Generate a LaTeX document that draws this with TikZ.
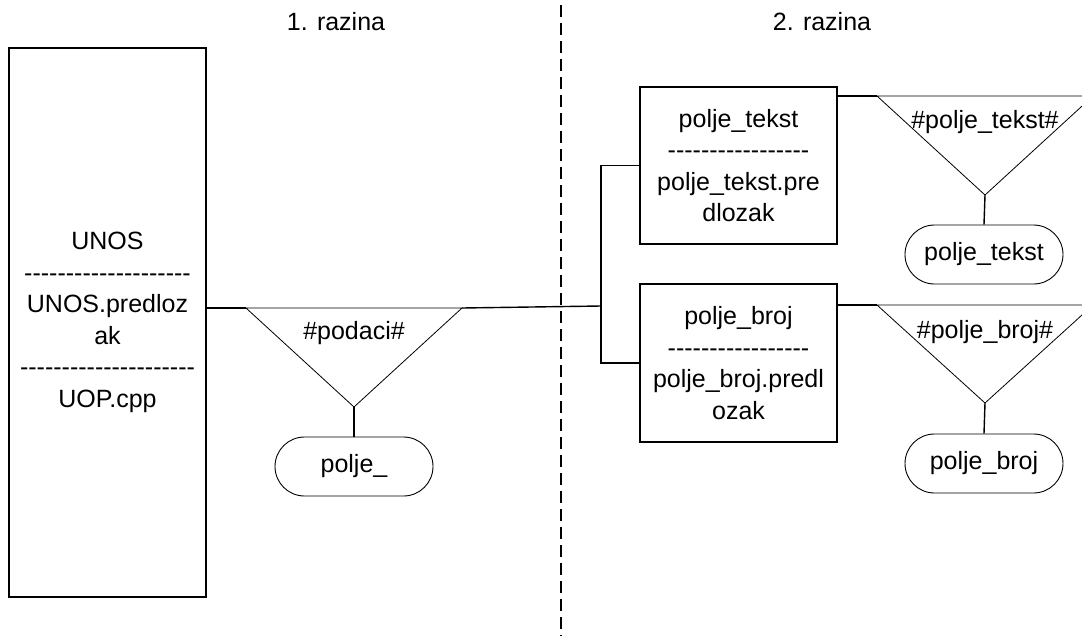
\documentclass[tikz,border=0pt]{standalone}
\usepackage{fontspec}
\setmainfont{Liberation Sans}
\usetikzlibrary{shapes.misc}
\newcommand\crtice[1]{\foreach\k in {1,...,#1}{-\kern0pt}}
\begin{document}
\begin{tikzpicture}[x=1pt,y=-1pt,
  every node/.style={font=\fontsize{25}{31.5}\selectfont},
  blok/.style={draw,line width=1.4pt,rectangle,inner sep=0pt,minimum width=197pt,align=center},
  pill/.style={draw,line width=0.9pt,rounded rectangle,inner sep=0pt,minimum width=158pt,minimum height=59pt},
  tri/.style={draw,line width=0.8pt},
  veza/.style={draw,line width=1.4pt},
  lbl/.style={inner sep=0pt}]
\useasboundingbox (0,0) rectangle (1082,635);
\clip (0,0) rectangle (1082,635);
% headings
\node[lbl] (h1) at (336,22) {1. razina};
\node[lbl] (h2) at (822,22) {2. razina};
% divider
\coordinate (dtop) at (561,5);
\coordinate (dbot) at (561,640);
\draw[line width=1.5pt,dash pattern=on 12pt off 6pt] (dtop) -- (dbot);
% level 1
\node[blok,minimum height=549pt] (unos) at (107.5,322.5)
  {UNOS\\\crtice{20}\\UNOS.predloz\\ak\\\crtice{21}\\UOP.cpp};
\coordinate (a0) at (246,308);
\coordinate (b0) at (462,308);
\coordinate (c0) at (354,407);
\draw[tri] (a0) -- (b0) -- (c0) -- cycle;
\node[lbl] (l0) at (354,333) {\#podaci\#};
\node[pill] (p0) at (354,466.5) {polje\_};
\draw[veza] (a0 -| unos.east) -- (a0);
\draw[veza] (c0) -- (p0.north);
% level 2
\node[blok,minimum height=157pt] (t1) at (738.5,165.5)
  {polje\_tekst\\\crtice{17}\\polje\_tekst.pre\\dlozak};
\node[blok,minimum height=158pt] (t2) at (738.5,363)
  {polje\_broj\\\crtice{17}\\polje\_broj.predl\\ozak};
\coordinate (j) at (601,306);
\draw[veza] (b0) -- (j);
\draw[veza] (t1.west) -| (j) |- (t2.west);
% triangle polje_tekst
\coordinate (a1) at (877,96);
\coordinate (b1) at (1093,96);
\coordinate (c1) at (985,195);
\draw[tri] (a1) -- (b1) -- (c1) -- cycle;
\node[lbl] (l1) at (985,122) {\#polje\_tekst\#};
\node[pill] (p1) at (984,254.5) {polje\_tekst};
\draw[veza] (a1 -| t1.east) -- (a1);
\draw[veza] (c1) -- (p1.north);
% triangle polje_broj
\coordinate (a2) at (877,305);
\coordinate (b2) at (1093,305);
\coordinate (c2) at (985,403);
\draw[tri] (a2) -- (b2) -- (c2) -- cycle;
\node[lbl] (l2) at (985,332) {\#polje\_broj\#};
\node[pill] (p2) at (984,463.5) {polje\_broj};
\draw[veza] (a2 -| t2.east) -- (a2);
\draw[veza] (c2) -- (p2.north);
\end{tikzpicture}
\end{document}
